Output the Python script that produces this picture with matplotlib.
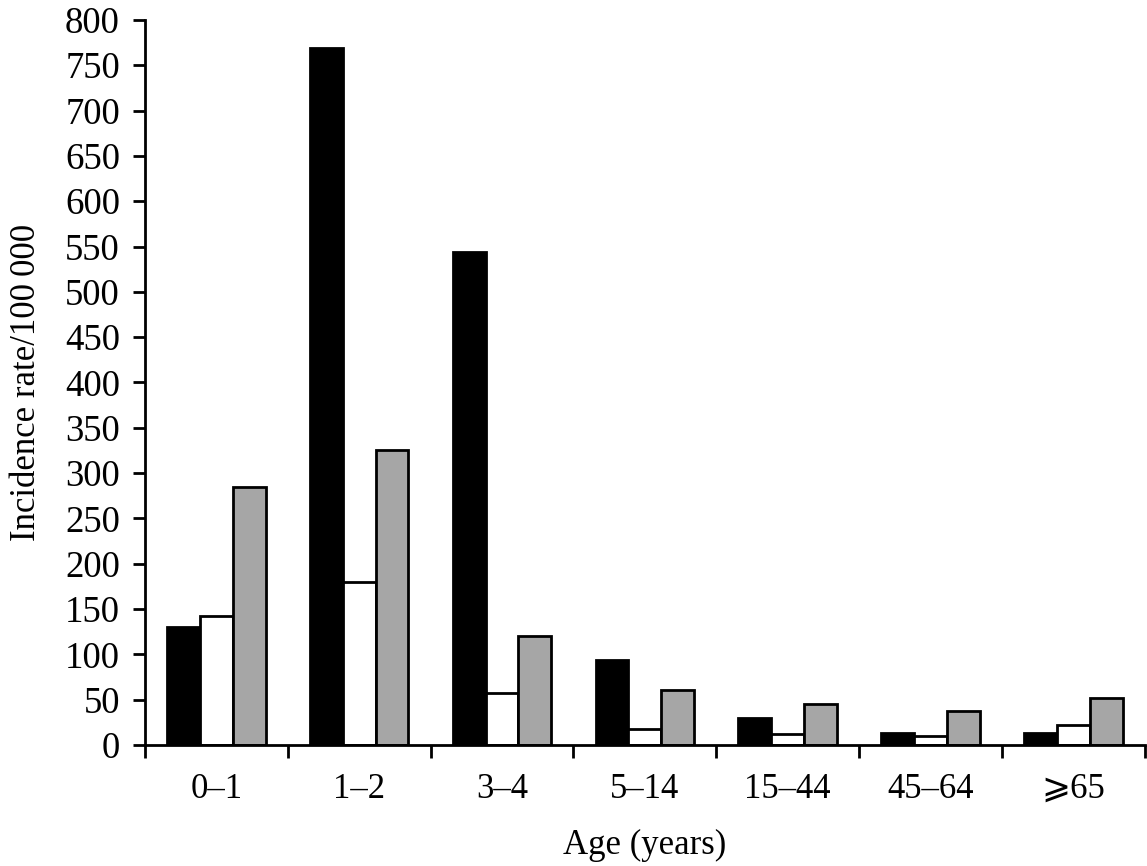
import matplotlib
matplotlib.use("Agg")
import matplotlib.pyplot as plt
import numpy as np

# data
ages = ["0\u20131", "1\u20132", "3\u20134", "5\u201314", "15\u201344", "45\u201364", "\u2a7e65"]
black_vals = [130, 769, 544, 94, 30, 13, 13]
white_vals = [142, 180, 57, 18, 12, 10, 22]
gray_vals = [285, 325, 120, 61, 45, 38, 52]
y_ticks = list(range(0, 801, 50))

plt.rcParams['font.family'] = ['Liberation Serif', 'DejaVu Serif', 'DejaVu Sans']
plt.rcParams['font.size'] = 25

fig = plt.figure(figsize=(11.47, 8.66), dpi=100)
ax = fig.add_axes([0.1264, 0.1397, 0.8716, 0.8373])

x = np.arange(len(ages))
w = 0.23
lw = 2.0
ax.bar(x - w, black_vals, w, color='black', edgecolor='black', linewidth=lw)
ax.bar(x, white_vals, w, color='white', edgecolor='black', linewidth=lw)
ax.bar(x + w, gray_vals, w, color='#a6a6a6', edgecolor='black', linewidth=lw)

ax.set_xlim(-0.5, len(ages) - 0.5)
ax.set_ylim(0, 800)
ax.set_yticks(y_ticks)

# ticks at category boundaries, labels at centres
ax.set_xticks(np.arange(len(ages) + 1) - 0.5)
ax.set_xticklabels([])
ax.set_xticks(x, minor=True)
ax.set_xticklabels(ages, minor=True)
ax.tick_params(axis='x', which='minor', length=0, pad=20, labelsize=25)
ax.tick_params(axis='x', which='major', length=9, width=2, direction='out')
ax.tick_params(axis='y', length=9, width=2, direction='out', pad=9, labelsize=26.5)

for s in ['top', 'right']:
    ax.spines[s].set_visible(False)
for s in ['left', 'bottom']:
    ax.spines[s].set_linewidth(2)

ax.set_xlabel('Age (years)', labelpad=17)
ax.set_ylabel('Incidence rate/100\u2009000', labelpad=16)

fig.savefig('out.png', dpi=100)
